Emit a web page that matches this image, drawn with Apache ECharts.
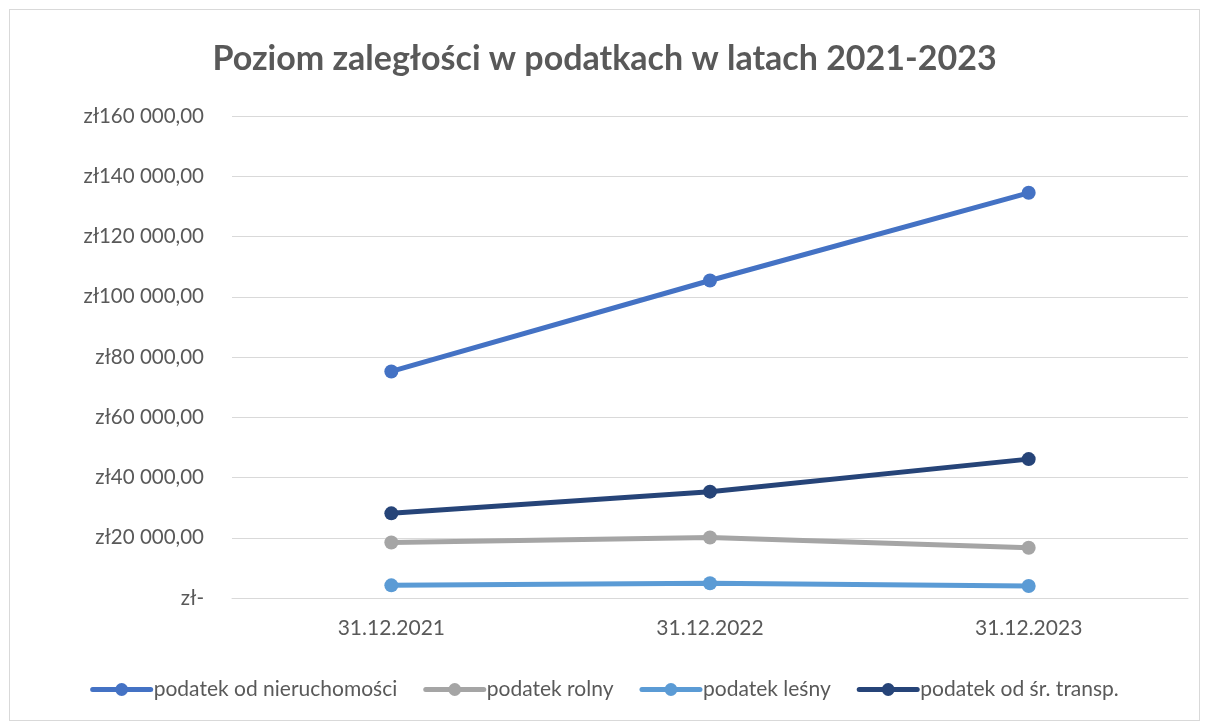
<!DOCTYPE html>
<html><head><meta charset="utf-8">
<script src="https://cdn.jsdelivr.net/npm/echarts@6/dist/echarts.min.js"></script>
<style>html,body{margin:0;padding:0;background:#fff}
#frame{position:absolute;left:9px;top:9px;width:1191px;height:712px;border:1px solid #d9d9d9;box-sizing:border-box}
#c{position:absolute;left:0;top:0;width:1209px;height:722px}</style>
</head><body><div id="frame"></div><div id="c"></div>
<script>
const categories = ['31.12.2021','31.12.2022','31.12.2023'];
const nieruchomosci = [75200, 105400, 134500];
const rolny = [18400, 20100, 16700];
const lesny = [4200, 4900, 4000];
const transport = [28100, 35300, 46100];
const seriesNames = ['podatek od nieruchomości','podatek rolny','podatek leśny','podatek od śr. transp.'];
const colors = ['#4472c4','#a5a5a5','#5b9bd5','#264478'];
const font = 'Lato, "Open Sans", sans-serif';

function fmt(v){
  if(v===0) return 'zł-';
  const s = Math.round(v).toString().replace(/\B(?=(\d{3})+(?!\d))/g,' ');
  return 'zł' + s + ',00';
}
const chart = echarts.init(document.getElementById('c'));
const data = [nieruchomosci, rolny, lesny, transport];
chart.setOption({
  animation:false,
  title:{text:'Poziom zaległości w podatkach w latach 2021-2023',left:'center',top:37,
    textStyle:{fontFamily:font,fontSize:34,fontWeight:'bold',color:'#595959'}},
  grid:{left:232,right:21,top:116,bottom:124},
  legend:{bottom:17,left:'center',itemWidth:58,itemHeight:16,itemGap:26,
    lineStyle:{width:5,cap:'round'},
    textStyle:{fontFamily:font,fontSize:21,color:'#595959',padding:[0,0,0,-2]},
    data:seriesNames},
  xAxis:{type:'category',data:categories,boundaryGap:true,
    axisLine:{lineStyle:{color:'#d9d9d9',width:1}},axisTick:{show:false},
    axisLabel:{fontFamily:font,fontSize:21,color:'#595959',margin:20}},
  yAxis:{type:'value',min:0,max:160000,interval:20000,
    axisLine:{show:false},axisTick:{show:false},
    splitLine:{lineStyle:{color:'#d9d9d9',width:1}},
    axisLabel:{fontFamily:font,fontSize:20.5,color:'#595959',margin:28,formatter:fmt}},
  series:seriesNames.map((n,i)=>({name:n,type:'line',data:data[i],
    symbol:'circle',symbolSize:14,lineStyle:{width:5,color:colors[i],cap:'round'},
    itemStyle:{color:colors[i]}}))
});
</script></body></html>
